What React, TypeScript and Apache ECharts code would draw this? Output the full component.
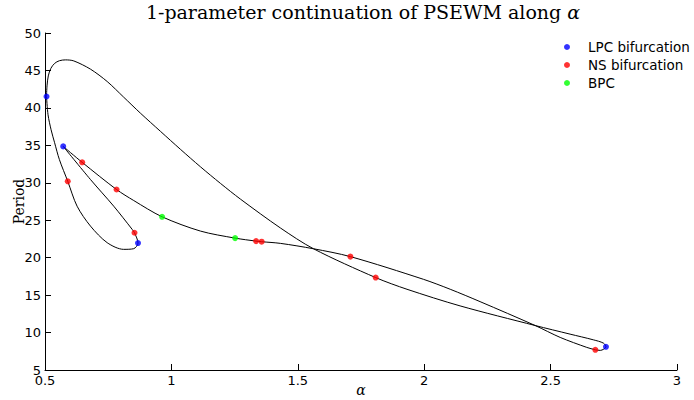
import React, { useEffect, useRef } from "react";
import * as echarts from "echarts";

// Continuation curve (closed loop)
const curveAlpha = [0.506, 0.508, 0.513, 0.523, 0.538, 0.557, 0.581, 0.614, 0.680, 0.746, 0.811, 0.877, 0.957, 1.036, 1.115, 1.194, 1.273, 1.431, 1.562, 1.808, 1.932, 2.142, 2.439, 2.577, 2.669, 2.709, 2.719, 2.697, 2.677, 2.643, 2.538, 2.439, 2.221, 2.103, 1.997, 1.708, 1.562, 1.431, 1.357, 1.335, 1.252, 1.115, 0.963, 0.851, 0.783, 0.647, 0.572, 0.680, 0.772, 0.845, 0.854, 0.868, 0.851, 0.811, 0.746, 0.680, 0.627, 0.590, 0.557, 0.538, 0.524, 0.512, 0.506];
const curvePeriod = [41.52, 42.94, 44.27, 45.27, 45.94, 46.30, 46.41, 46.27, 45.17, 43.52, 41.44, 39.31, 36.86, 34.46, 32.13, 29.92, 27.82, 23.97, 21.19, 17.34, 15.78, 13.56, 10.94, 9.79, 9.03, 8.59, 8.10, 7.62, 7.70, 8.02, 9.35, 10.94, 14.13, 15.78, 17.11, 20.14, 21.19, 21.91, 22.13, 22.21, 22.61, 23.55, 25.46, 27.63, 29.10, 32.73, 34.86, 30.43, 26.87, 23.77, 23.33, 21.95, 21.20, 21.11, 22.00, 24.21, 26.87, 30.20, 33.09, 35.35, 37.09, 39.08, 41.52];

const lpcAlpha = [0.506, 0.572, 0.868, 2.719];
const lpcPeriod = [41.52, 34.86, 21.95, 8.10];

const nsAlpha = [0.590, 0.647, 0.783, 0.854, 1.335, 1.357, 1.708, 1.808, 2.677];
const nsPeriod = [30.20, 32.73, 29.10, 23.33, 22.21, 22.13, 20.14, 17.34, 7.70];

const bpcAlpha = [0.963, 1.252];
const bpcPeriod = [25.46, 22.61];

const seriesNames = ["LPC bifurcation", "NS bifurcation", "BPC"];
const titleText = "1-parameter continuation of PSEWM along ";
const xName = "α";
const yName = "Period";

const zip = (a: number[], b: number[]) => a.map((v, i) => [v, b[i]]);

export default function App() {
  const ref = useRef<HTMLDivElement>(null);
  useEffect(() => {
    document.body.style.margin = "0";
    const chart = echarts.init(ref.current!, null, { renderer: "svg" });
    const sans = "DejaVu Sans";
    const serif = "DejaVu Serif";
    chart.setOption({
      animation: false,
      backgroundColor: "#ffffff",
      title: {
        text: titleText + "{a|α}",
        left: 363,
        top: 2,
        textAlign: "center",
        padding: 0,
        textStyle: {
          fontFamily: serif,
          fontWeight: "normal",
          fontSize: 19,
          color: "#000",
          rich: {
            a: { fontFamily: serif, fontStyle: "italic", fontSize: 19, color: "#000" },
          },
        },
      },
      legend: {
        data: seriesNames,
        orient: "vertical",
        left: 564,
        top: 40,
        icon: "circle",
        itemWidth: 32,
        itemHeight: 6,
        symbolKeepAspect: true,
        itemGap: 4,
        padding: 0,
        textStyle: {
          fontFamily: sans,
          fontSize: 13.5,
          lineHeight: 13.5,
          color: "#000",
          width: 80,
          overflow: "none",
        },
      },
      grid: { left: 45, right: 17, top: 33, bottom: 30, containLabel: false, outerBoundsMode: "none" },
      xAxis: {
        type: "value",
        min: 0.5,
        max: 3,
        interval: 0.5,
        name: xName,
        nameLocation: "middle",
        nameGap: 13,
        nameMoveOverlap: false,
        nameTextStyle: { fontFamily: serif, fontStyle: "italic", fontSize: 14, color: "#000" },
        axisLine: { show: true, lineStyle: { color: "#000", width: 1 } },
        axisTick: { show: true, inside: true, length: 6, lineStyle: { color: "#000" } },
        axisLabel: { color: "#000", fontFamily: sans, fontSize: 13, margin: 4 },
        splitLine: { show: false },
      },
      yAxis: {
        type: "value",
        min: 5,
        max: 50,
        interval: 5,
        name: yName,
        nameLocation: "middle",
        nameGap: 19,
        nameMoveOverlap: false,
        nameTextStyle: { fontFamily: serif, fontSize: 14, color: "#000" },
        axisLine: { show: true, lineStyle: { color: "#000", width: 1 } },
        axisTick: { show: true, inside: true, length: 6, lineStyle: { color: "#000" } },
        axisLabel: { color: "#000", fontFamily: sans, fontSize: 13, margin: 4 },
        splitLine: { show: false },
      },
      series: [
        {
          name: "curve",
          type: "line",
          data: zip(curveAlpha, curvePeriod),
          showSymbol: false,
          smooth: 0.3,
          lineStyle: { color: "#000", width: 1 },
          z: 1,
          silent: true,
        },
        {
          name: seriesNames[0],
          type: "scatter",
          data: zip(lpcAlpha, lpcPeriod),
          symbolSize: 6,
          itemStyle: { color: "#0000ff" },
          z: 3,
        },
        {
          name: seriesNames[1],
          type: "scatter",
          data: zip(nsAlpha, nsPeriod),
          symbolSize: 6,
          itemStyle: { color: "#ff0000" },
          z: 3,
        },
        {
          name: seriesNames[2],
          type: "scatter",
          data: zip(bpcAlpha, bpcPeriod),
          symbolSize: 6,
          itemStyle: { color: "#00ff00" },
          z: 3,
        },
      ],
    });
    return () => chart.dispose();
  }, []);
  return <div ref={ref} style={{ width: 694, height: 400 }} />;
}
